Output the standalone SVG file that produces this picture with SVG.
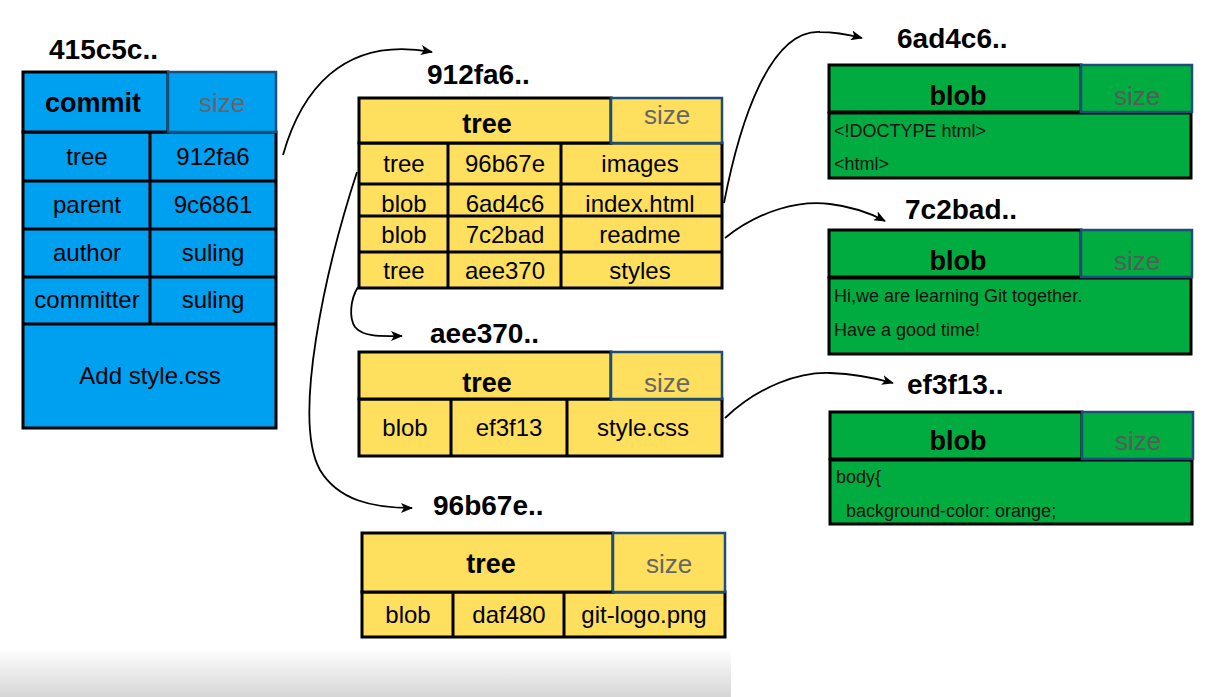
<svg xmlns="http://www.w3.org/2000/svg" width="1225" height="697" viewBox="0 0 1225 697">
<defs>
<linearGradient id="shade" x1="0" y1="0" x2="0" y2="1">
<stop offset="0" stop-color="#ffffff"/>
<stop offset="1" stop-color="#d6d6d6"/>
</linearGradient>
<marker id="ah" viewBox="0 0 12 10" refX="11" refY="5" markerWidth="12" markerHeight="10" markerUnits="userSpaceOnUse" orient="auto">
<path d="M0,0 L12,5 L0,10 L3,5 Z" fill="#000"/>
</marker>
<style>
text{font-family:"Liberation Sans",Arial,Helvetica,sans-serif;fill:#000}
.lbl{font-size:28px;font-weight:bold}
.hd{font-size:27px;font-weight:bold;text-anchor:middle}
.sz{font-size:26px;text-anchor:middle;fill:#666}
.gsz{font-size:26px;text-anchor:middle;fill:#545e56}
.cell{font-size:24px;text-anchor:middle}
.body{font-size:18px;fill:#111}
.blue{fill:#00a0f0}
.yel{fill:#fee05e}
.grn{fill:#00ac40}
.box{stroke:#000;stroke-width:3}
.szb{stroke:#1b4e78;stroke-width:2.5}
.ln{stroke:#000;stroke-width:3;fill:none}
.con{stroke:#000;stroke-width:1.8;fill:none;marker-end:url(#ah)}
</style>
</defs>
<rect x="0" y="0" width="1225" height="697" fill="#fff"/>
<rect x="0" y="648" width="731" height="49" fill="url(#shade)"/>

<g id="commit-415c5c">
<text class="lbl" x="49" y="59">415c5c..</text>
<rect class="blue box" x="23" y="132" width="253" height="296"/>
<rect class="blue box" x="23" y="72" width="145" height="60"/>
<rect class="blue szb" x="168" y="72" width="108" height="60"/>
<line class="ln" x1="150" y1="132" x2="150" y2="324"/>
<line class="ln" x1="23" y1="181" x2="276" y2="181"/>
<line class="ln" x1="23" y1="229" x2="276" y2="229"/>
<line class="ln" x1="23" y1="277" x2="276" y2="277"/>
<line class="ln" x1="23" y1="324" x2="276" y2="324"/>
<text class="hd" x="93" y="112">commit</text>
<text class="sz" x="222" y="112">size</text>
<text class="cell" x="87" y="165">tree</text>
<text class="cell" x="213" y="165">912fa6</text>
<text class="cell" x="87" y="213">parent</text>
<text class="cell" x="213" y="213">9c6861</text>
<text class="cell" x="87" y="261">author</text>
<text class="cell" x="213" y="261">suling</text>
<text class="cell" x="87" y="308">committer</text>
<text class="cell" x="213" y="308">suling</text>
<text class="cell" x="150" y="384">Add style.css</text>
</g>

<g id="tree-912fa6">
<text class="lbl" x="427" y="84">912fa6..</text>
<rect class="yel box" x="359" y="143" width="363" height="145"/>
<rect class="yel box" x="359" y="98" width="252" height="45"/>
<rect class="yel szb" x="611" y="98" width="111" height="45"/>
<line class="ln" x1="359" y1="184" x2="722" y2="184"/>
<line class="ln" x1="359" y1="216" x2="722" y2="216"/>
<line class="ln" x1="359" y1="252" x2="722" y2="252"/>
<line class="ln" x1="448" y1="143" x2="448" y2="288"/>
<line class="ln" x1="561" y1="143" x2="561" y2="288"/>
<text class="hd" x="487" y="133">tree</text>
<text class="sz" x="667" y="124">size</text>
<text class="cell" x="404" y="172">tree</text>
<text class="cell" x="505" y="172">96b67e</text>
<text class="cell" x="640" y="172">images</text>
<text class="cell" x="404" y="212">blob</text>
<text class="cell" x="505" y="212">6ad4c6</text>
<text class="cell" x="640" y="212">index.html</text>
<text class="cell" x="404" y="243">blob</text>
<text class="cell" x="505" y="243">7c2bad</text>
<text class="cell" x="640" y="243">readme</text>
<text class="cell" x="404" y="279">tree</text>
<text class="cell" x="505" y="279">aee370</text>
<text class="cell" x="640" y="279">styles</text>
</g>

<g id="tree-aee370">
<text class="lbl" x="430" y="343">aee370..</text>
<rect class="yel box" x="359" y="399" width="363" height="57"/>
<rect class="yel box" x="359" y="352" width="252" height="47"/>
<rect class="yel szb" x="611" y="352" width="111" height="47"/>
<line class="ln" x1="451" y1="399" x2="451" y2="456"/>
<line class="ln" x1="567" y1="399" x2="567" y2="456"/>
<text class="hd" x="487" y="392">tree</text>
<text class="sz" x="667" y="392">size</text>
<text class="cell" x="405" y="436">blob</text>
<text class="cell" x="509" y="436">ef3f13</text>
<text class="cell" x="643" y="436">style.css</text>
</g>

<g id="tree-96b67e">
<text class="lbl" x="433" y="515">96b67e..</text>
<rect class="yel box" x="362" y="592" width="363" height="45"/>
<rect class="yel box" x="362" y="533" width="251" height="59"/>
<rect class="yel szb" x="613" y="533" width="112" height="59"/>
<line class="ln" x1="453" y1="592" x2="453" y2="637"/>
<line class="ln" x1="564" y1="592" x2="564" y2="637"/>
<text class="hd" x="491" y="573">tree</text>
<text class="sz" x="669" y="573">size</text>
<text class="cell" x="408" y="623">blob</text>
<text class="cell" x="509" y="623">daf480</text>
<text class="cell" x="644" y="623">git-logo.png</text>
</g>

<g id="blob-6ad4c6">
<text class="lbl" x="897" y="48">6ad4c6..</text>
<rect class="grn box" x="829" y="113" width="362" height="65"/>
<rect class="grn box" x="829" y="65" width="252" height="47"/>
<rect class="grn szb" x="1081" y="65" width="111" height="47"/>
<text class="hd" x="958" y="105">blob</text>
<text class="gsz" x="1137" y="105">size</text>
<text class="body" x="834" y="137">&lt;!DOCTYPE html&gt;</text>
<text class="body" x="834" y="170">&lt;html&gt;</text>
</g>

<g id="blob-7c2bad">
<text class="lbl" x="905" y="219">7c2bad..</text>
<rect class="grn box" x="829" y="278" width="362" height="76"/>
<rect class="grn box" x="829" y="230" width="252" height="47"/>
<rect class="grn szb" x="1081" y="230" width="111" height="47"/>
<text class="hd" x="958" y="270">blob</text>
<text class="gsz" x="1137" y="270">size</text>
<text class="body" x="834" y="302">Hi,we are learning Git together.</text>
<text class="body" x="834" y="336">Have a good time!</text>
</g>

<g id="blob-ef3f13">
<text class="lbl" x="907" y="394">ef3f13..</text>
<rect class="grn box" x="830" y="460" width="362" height="64"/>
<rect class="grn box" x="830" y="412" width="252" height="47"/>
<rect class="grn szb" x="1082" y="412" width="111" height="47"/>
<text class="hd" x="958" y="450">blob</text>
<text class="gsz" x="1138" y="450">size</text>
<text class="body" x="836" y="483">body{</text>
<text class="body" x="846" y="517">background-color: orange;</text>
</g>

<g id="connectors">
<path class="con" d="M283,155 C300,95 340,35 432,52"/>
<path class="con" d="M357,172 C325,270 292,420 320,470 C338,500 372,508 412,508"/>
<path class="con" d="M358,287 C350,300 349,318 355,327 C364,338 385,336 402,336"/>
<path class="con" d="M724,203 C740,120 770,30 820,32 C838,32 850,35 862,38"/>
<path class="con" d="M725,238 C760,210 800,200 830,204 C855,207 872,214 885,221"/>
<path class="con" d="M725,418 C760,385 800,372 830,373 C855,374 875,378 893,383"/>
</g>
</svg>
